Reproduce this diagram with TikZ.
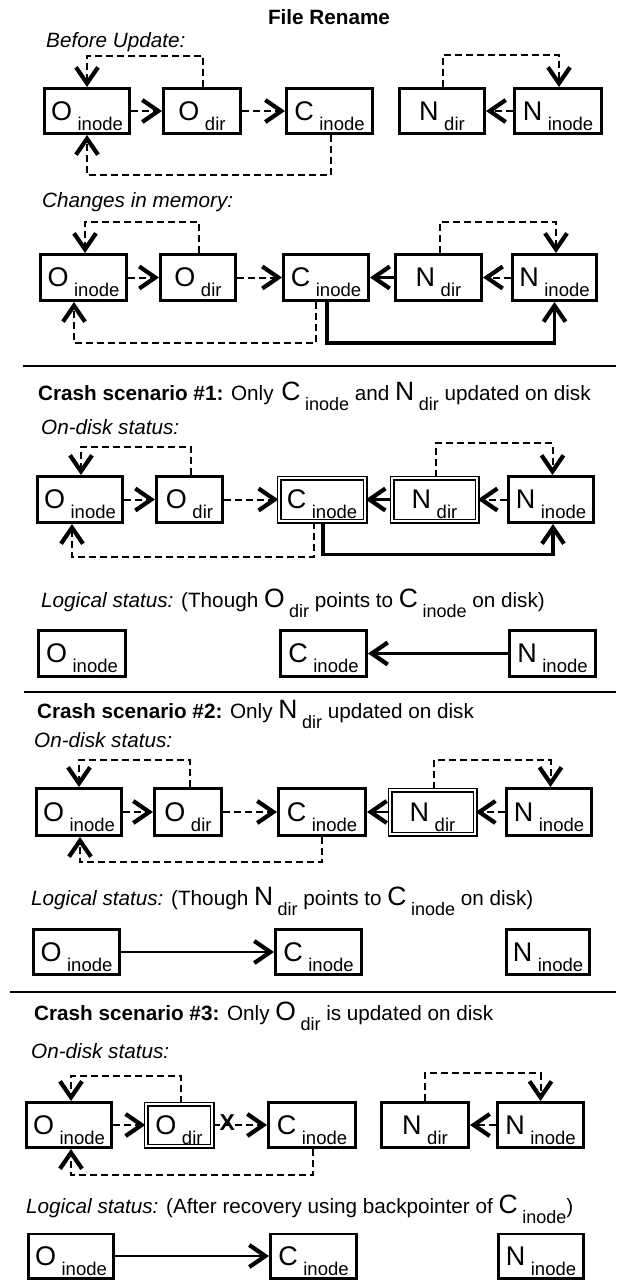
\documentclass[tikz,border=0pt]{standalone}
\usepackage{fontspec}
\setmainfont{Liberation Sans}
\usetikzlibrary{arrows.meta}
\newcommand\BL[2]{{\fontsize{26.5}{28}\selectfont #1}\hspace{4.5pt}\raisebox{-10pt}{\fontsize{18}{20}\selectfont #2}}
\newcommand\BX[2]{{\fontsize{27}{28}\selectfont #1}\hspace{5.5pt}\smash{\raisebox{-10pt}{\fontsize{18.5}{20}\selectfont #2}}}
\newcommand\TX{\fontsize{20.7}{24}\selectfont}
\newcommand\bxn[8]{\node[#1, minimum width=#5pt, minimum height=#6pt] (#2) at (#3,#4) {\BX{#7}{#8}};}
\begin{document}
\begin{tikzpicture}[x=1pt,y=1pt,
 box/.style={draw, line width=2.6pt, inner sep=0pt},
 dbox/.style={draw, double, double distance=2.2pt, line width=1.4pt, inner sep=0pt},
 dsh/.style={line width=2pt, dash pattern=on 7pt off 4pt},
 sol/.style={line width=2.4pt},
 thk/.style={line width=3.2pt},
 >={Straight Barb[length=16pt,width=22pt,line width=4.2pt]},
 lab/.style={anchor=base west, inner sep=0pt, font=\TX},
 sep/.style={line width=2.4pt},
 xmark/.style={inner sep=0pt, font=\fontsize{23}{24}\selectfont\bfseries}
]
\useasboundingbox (0,0) rectangle (616,-1281);

% ---------- texts ----------
\node[anchor=base, inner sep=0pt, font=\TX\bfseries] (title) at (329,-25) {File Rename};
\node[lab] (t1) at (46,-48) {\textit{Before Update:}};
\node[lab] (t2) at (42,-208) {\textit{Changes in memory:}};
\node[lab] (t3) at (38,-400) {\textbf{Crash scenario \#1:} Only~\hspace{2pt}\BL{C}{inode} and \BL{N}{dir} updated on disk};
\node[lab] (t4) at (41,-434) {\textit{On-disk status:}};
\node[lab] (t5) at (41,-607) {\textit{Logical status:} (Though \BL{O}{dir} points to \BL{C}{inode} on disk)};
\node[lab] (t6) at (37,-718) {\textbf{Crash scenario \#2:} Only \BL{N}{dir} updated on disk};
\node[lab] (t7) at (34,-747) {\textit{On-disk status:}};
\node[lab] (t8) at (31,-905) {\textit{Logical status:} (Though \BL{N}{dir} points to \BL{C}{inode} on disk)};
\node[lab] (t9) at (34,-1020) {\textbf{Crash scenario \#3:} Only \BL{O}{dir} is updated on disk};
\node[lab] (t10) at (31,-1058) {\textit{On-disk status:}};
\node[lab] (t11) at (26,-1213) {\textit{Logical status:} (After recovery using backpointer of \BL{C}{inode})};

% ---------- separators ----------
\draw[sep] (23,-366) -- (616,-366);
\draw[sep] (24,-692) -- (616,-692);
\draw[sep] (10,-992) -- (616,-992);

% ---------- row 1 ----------
\bxn{box}{r1oi}{87}{-111}{85.4}{45.4}{O}{inode}
\bxn{box}{r1od}{202}{-111}{77.4}{45.4}{O}{dir}
\bxn{box}{r1ci}{329.5}{-111}{86.4}{45.4}{C}{inode}
\bxn{box}{r1nd}{442}{-111}{85.4}{45.4}{N}{dir}
\bxn{box}{r1ni}{558}{-111}{87.4}{45.4}{N}{inode}
\draw[dsh,->] (r1oi) -- (r1od);
\draw[dsh,->] (r1od) -- (r1ci);
\draw[dsh,->] (r1ni) -- (r1nd);
\draw[dsh,->] ([xshift=1pt]r1od.north) -- ++(0,31) -| (r1oi.north);
\draw[dsh,->] ([xshift=1.5pt]r1ci.south) -- ++(0,-40) -| (r1oi.south);
\draw[dsh,->] ([xshift=1pt]r1nd.north) -- ++(0,32) -| ([xshift=1pt]r1ni.north);

% ---------- row 2 ----------
\bxn{box}{r2oi}{83.5}{-277.5}{86.4}{46.4}{O}{inode}
\bxn{box}{r2od}{198}{-277.5}{75.4}{46.4}{O}{dir}
\bxn{box}{r2ci}{326}{-277.5}{85.4}{46.4}{C}{inode}
\bxn{box}{r2nd}{438.5}{-277.5}{86.4}{46.4}{N}{dir}
\bxn{box}{r2ni}{554.5}{-277.5}{84.4}{46.4}{N}{inode}
\draw[dsh,->] (r2oi) -- (r2od);
\draw[dsh,->] (r2od) -- (r2ci);
\draw[sol,->] (r2nd) -- (r2ci);
\draw[dsh,->] (r2ni) -- (r2nd);
\draw[dsh,->] ([xshift=1pt]r2od.north) -- ++(0,31) -| ([xshift=1.5pt]r2oi.north);
\draw[dsh,->] ([xshift=1.5pt]r2nd.north) -- ++(0,31) -| ([xshift=1.5pt]r2ni.north);
\draw[dsh,->] ([xshift=-10pt]r2ci.south) -- ++(0,-41) -| ([xshift=-9.5pt]r2oi.south);
\draw[thk,->] ([xshift=1pt]r2ci.south) -- ++(0,-41) -| (r2ni.south);

% ---------- row 3 ----------
\bxn{box}{r3oi}{80}{-499.5}{85.4}{46.4}{O}{inode}
\bxn{box}{r3od}{189.5}{-499.5}{66.4}{46.4}{O}{dir}
\bxn{dbox}{r3ci}{322}{-499.5}{86}{43}{C}{inode}
\bxn{dbox}{r3nd}{434.5}{-499.5}{85}{43}{N}{dir}
\bxn{box}{r3ni}{551}{-499.5}{85.4}{46.4}{N}{inode}
\draw[dsh,->] (r3oi) -- (r3od);
\draw[dsh,->] (r3od) -- (r3ci);
\draw[sol,->] (r3nd) -- (r3ci);
\draw[dsh,->] (r3ni) -- (r3nd);
\draw[dsh,->] ([xshift=1.5pt]r3od.north) -- ++(0,28) -| ([xshift=1pt]r3oi.north);
\draw[dsh,->] ([xshift=1.5pt]r3nd.north) -- ++(0,34) -| ([xshift=1.5pt]r3ni.north);
\draw[dsh,->] ([xshift=-8pt]r3ci.south) -- ++(0,-35) -| ([xshift=-8pt]r3oi.south);
\draw[thk,->] ([xshift=1pt]r3ci.south) -- ++(0,-33) -| ([xshift=2pt]r3ni.south);

% ---------- logical 1 ----------
\bxn{box}{l1oi}{82}{-653.5}{87.4}{46.4}{O}{inode}
\bxn{box}{l1ci}{323.5}{-653.5}{86.4}{46.4}{C}{inode}
\bxn{box}{l1ni}{552.5}{-653.5}{86.4}{46.4}{N}{inode}
\draw[sol,->] (l1ni) -- (l1ci);

% ---------- row 5 ----------
\bxn{box}{r5oi}{79}{-812}{85.4}{47.4}{O}{inode}
\bxn{box}{r5od}{188}{-812}{67.4}{47.4}{O}{dir}
\bxn{box}{r5ci}{322}{-812}{87.4}{47.4}{C}{inode}
\bxn{dbox}{r5nd}{432.5}{-812}{85}{44}{N}{dir}
\bxn{box}{r5ni}{549}{-812}{85.4}{47.4}{N}{inode}
\draw[dsh,->] (r5oi) -- (r5od);
\draw[dsh,->] (r5od) -- (r5ci);
\draw[sol,->] (r5nd) -- (r5ci);
\draw[dsh,->] (r5ni) -- (r5nd);
\draw[dsh,->] ([xshift=2pt]r5od.north) -- ++(0,27) -| (r5oi.north);
\draw[dsh,->] ([xshift=1.5pt]r5nd.north) -- ++(0,29) -| ([xshift=1.5pt]r5ni.north);
\draw[dsh,->] (r5ci.south) -- ++(0,-25) -| ([xshift=1pt]r5oi.south);

% ---------- logical 2 ----------
\bxn{box}{l2oi}{76.5}{-952}{86.4}{45.4}{O}{inode}
\bxn{box}{l2ci}{318.5}{-952}{86.4}{45.4}{C}{inode}
\bxn{box}{l2ni}{548}{-952}{83.4}{45.4}{N}{inode}
\draw[sol,->] (l2oi) -- (l2ci);

% ---------- row 6 ----------
\bxn{box}{r6oi}{69}{-1125}{85.4}{45.4}{O}{inode}
\bxn{dbox}{r6od}{179}{-1125}{66}{42}{O}{dir}
\bxn{box}{r6ci}{312}{-1125}{87.4}{45.4}{C}{inode}
\bxn{box}{r6nd}{425}{-1125}{87.4}{45.4}{N}{dir}
\bxn{box}{r6ni}{540.5}{-1125}{86.4}{45.4}{N}{inode}
\draw[dsh,->] (r6oi) -- (r6od);
\draw[dsh,->] (r6od) -- (r6ci);
\path (r6od.east) -- (r6ci.west) node[pos=0.27, xmark, yshift=2pt] (xm) {X};
\draw[dsh,->] (r6ni) -- (r6nd);
\draw[dsh,->] ([xshift=2pt]r6od.north) -- ++(0,27) -| ([xshift=2pt]r6oi.north);
\draw[dsh,->] (r6nd.north) -- ++(0,28) -| (r6ni.north);
\draw[dsh,->] ([xshift=1pt]r6ci.south) -- ++(0,-26) -| ([xshift=2pt]r6oi.south);

% ---------- logical 3 ----------
\bxn{box}{l3oi}{71}{-1256}{85.4}{44.4}{O}{inode}
\bxn{box}{l3ci}{313.5}{-1256}{86.4}{44.4}{C}{inode}
\bxn{box}{l3ni}{541}{-1256}{85.4}{44.4}{N}{inode}
\draw[sol,->] (l3oi) -- (l3ci);
\end{tikzpicture}
\end{document}
